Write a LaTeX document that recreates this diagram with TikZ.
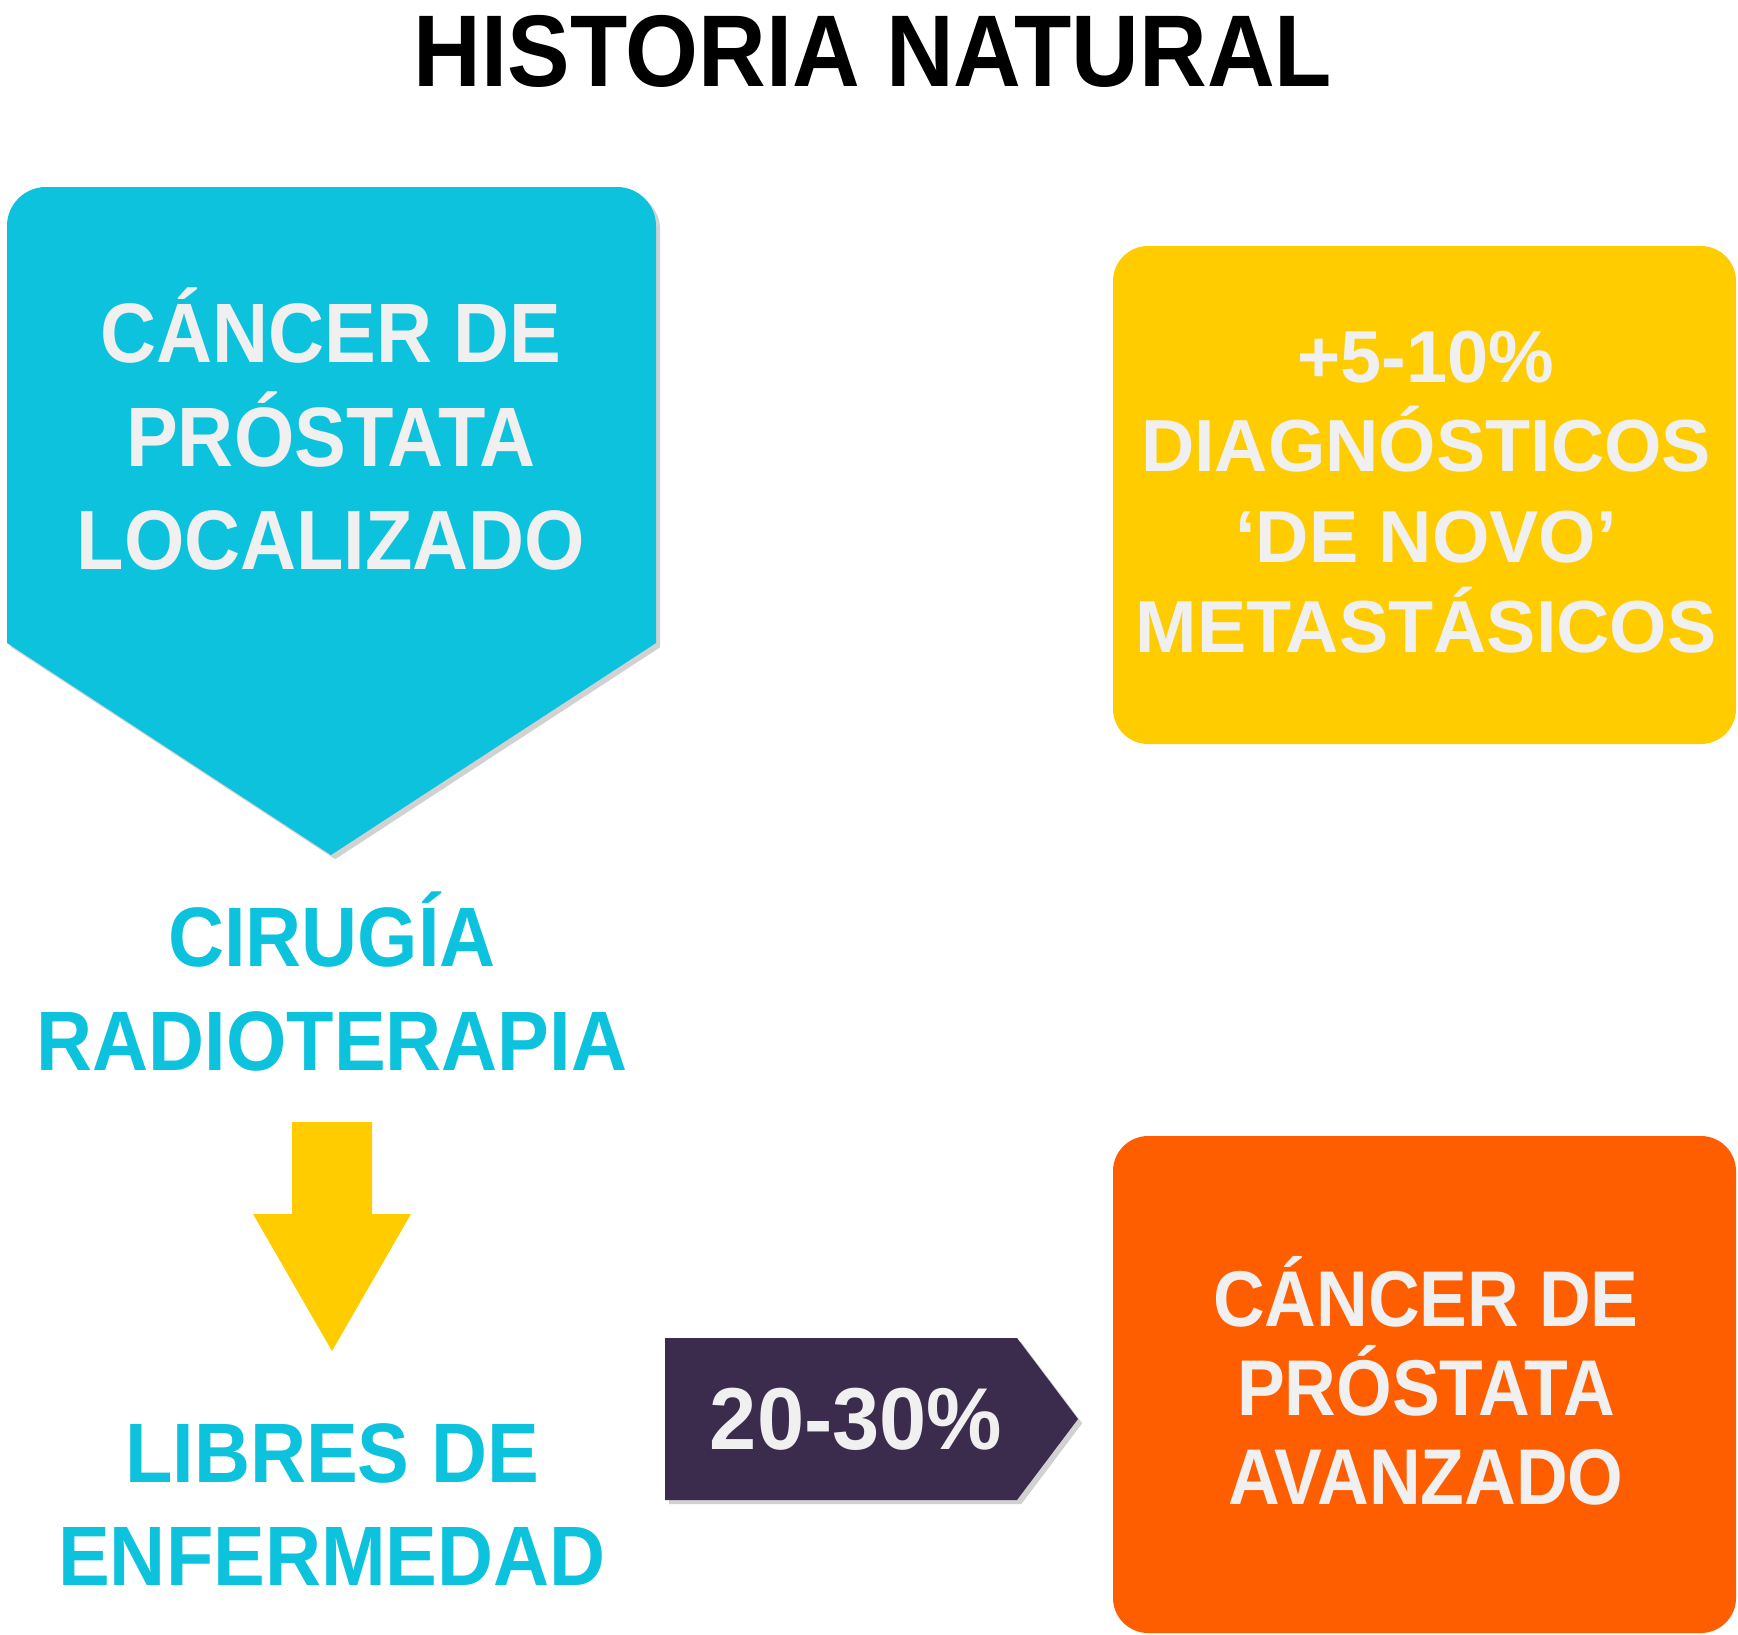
\documentclass[tikz,border=0pt]{standalone}
\usepackage{fontspec}
\setmainfont{Liberation Sans}
\newfontfamily\hnnarrow{Liberation Sans}[FakeStretch=0.92]
\newfontfamily\hnnarrowb{Liberation Sans}[FakeStretch=0.905]
\newfontfamily\hnpct{Liberation Sans}[FakeStretch=0.965]
\usetikzlibrary{shadows}
\definecolor{hnCyan}{RGB}{12,194,220}
\definecolor{hnYellow}{RGB}{255,204,0}
\definecolor{hnOrange}{RGB}{255,94,0}
\definecolor{hnPurple}{RGB}{59,44,78}
\definecolor{hnWhite}{RGB}{240,240,240}
\tikzset{
  hntxt/.style={anchor=base, inner sep=0pt},
  hnleft/.style={hntxt, font=\hnnarrow\bfseries\fontsize{24}{29}\selectfont},
  hnshadow/.style={drop shadow={shadow xshift=1.2pt, shadow yshift=-1.2pt, opacity=0.3, fill=black!60}},
}

\begin{document}
\begin{tikzpicture}[x=0.1mm,y=-0.1mm]
    \useasboundingbox (0,0) rectangle (1738,1635);

    % Title
    \node[hntxt, font=\hnnarrow\bfseries\fontsize{29}{34}\selectfont] (title) at (873,86) {HISTORIA NATURAL};

    % Left column
    \fill[hnCyan, hnshadow]
        (7,643) -- (7,226) arc[start angle=180, end angle=90, radius=3.9mm]
        -- (617,187) arc[start angle=90, end angle=0, radius=3.9mm]
        -- (656,643) -- (331,855) -- cycle;
    \node[hnleft, text=hnWhite] (loc1) at (331,362) {CÁNCER DE};
    \node[hnleft, text=hnWhite] (loc2) at (331,466) {PRÓSTATA};
    \node[hnleft, text=hnWhite] (loc3) at (331,569) {LOCALIZADO};

    \node[hnleft, text=hnCyan] (trat1) at (332,966) {CIRUGÍA};
    \node[hnleft, text=hnCyan] (trat2) at (332,1070) {RADIOTERAPIA};

    \fill[hnYellow] (292,1122) -- (372,1122) -- (372,1214) -- (411,1214)
        -- (332,1351) -- (253,1214) -- (292,1214) -- cycle;

    \node[hnleft, text=hnCyan] (libre1) at (332,1482) {LIBRES DE};
    \node[hnleft, text=hnCyan] (libre2) at (332,1585) {ENFERMEDAD};

    % Percentage arrow
    \fill[hnPurple, hnshadow] (665,1338) -- (1017,1338) -- (1078,1419) -- (1017,1500) -- (665,1500) -- cycle;
    \node[hntxt, text=hnWhite, font=\hnpct\bfseries\fontsize{25}{30}\selectfont] (pct) at (856,1449) {20-30\%};

    % Right column
    \fill[hnYellow, rounded corners=10pt] (1113,246) rectangle (1736,744);
    \node[hntxt, text=hnWhite, font=\bfseries\fontsize{21}{26}\selectfont] (meta1) at (1426,382) {+5-10\%};
    \node[hntxt, text=hnWhite, font=\bfseries\fontsize{21}{26}\selectfont] (meta2) at (1426,471) {DIAGNÓSTICOS};
    \node[hntxt, text=hnWhite, font=\bfseries\fontsize{21}{26}\selectfont] (meta3) at (1426,562) {‘DE NOVO’};
    \node[hntxt, text=hnWhite, font=\bfseries\fontsize{21}{26}\selectfont] (meta4) at (1426,652) {METASTÁSICOS};

    \fill[hnOrange, rounded corners=10pt] (1113,1136) rectangle (1736,1633);
    \node[hntxt, text=hnWhite, font=\hnnarrowb\bfseries\fontsize{22.5}{27}\selectfont] (av1) at (1426,1326) {CÁNCER DE};
    \node[hntxt, text=hnWhite, font=\hnnarrowb\bfseries\fontsize{22.5}{27}\selectfont] (av2) at (1426,1415) {PRÓSTATA};
    \node[hntxt, text=hnWhite, font=\hnnarrowb\bfseries\fontsize{22.5}{27}\selectfont] (av3) at (1426,1504) {AVANZADO};

\end{tikzpicture}
\end{document}
